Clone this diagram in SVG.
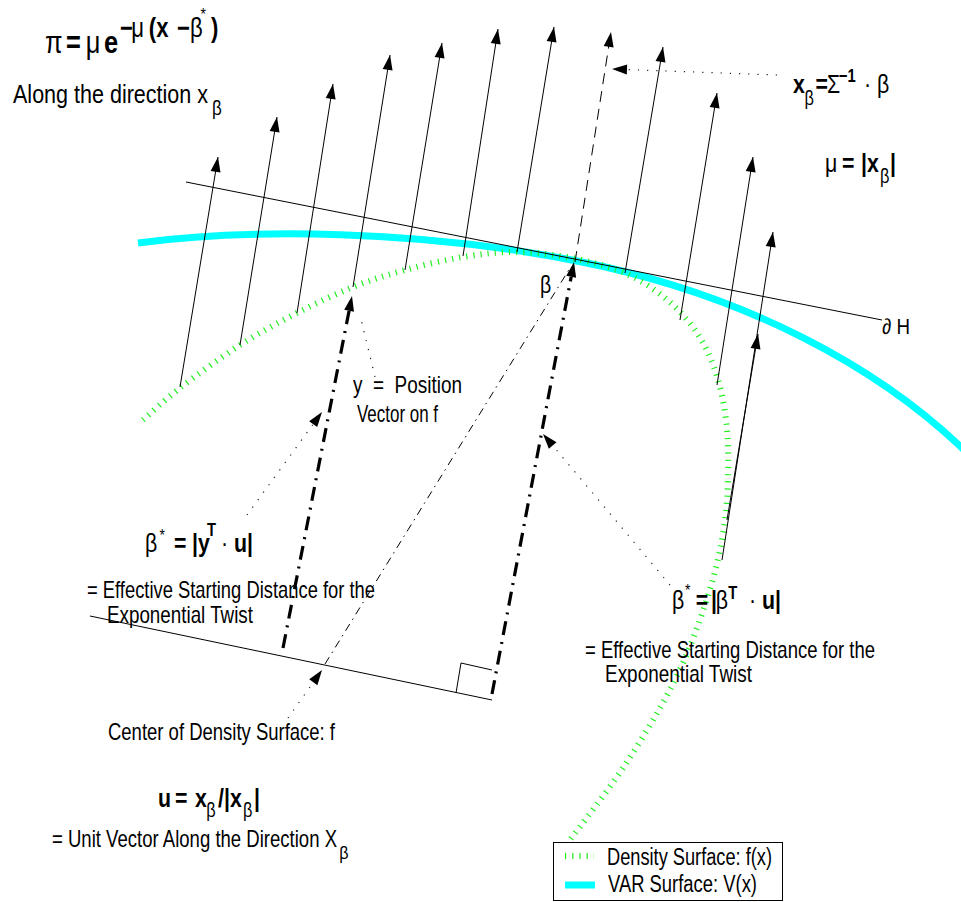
<svg xmlns="http://www.w3.org/2000/svg" width="961" height="902" viewBox="0 0 961 902">
<defs>
<style>
.t{font-family:"Liberation Sans",Arial,"DejaVu Sans",sans-serif;fill:#000}
.b{font-weight:bold}
.pre{white-space:pre}
.ln{stroke:#000;stroke-width:1;fill:none}
.arr{stroke:#000;stroke-width:1;fill:none;marker-end:url(#ah)}
.dash{stroke:#000;stroke-width:1;fill:none;stroke-dasharray:11 7;marker-end:url(#ah)}
.dot{stroke:#222;stroke-width:1.2;fill:none;stroke-dasharray:1.2 8}
.dda{marker-end:url(#ah)}
.thick{stroke:#000;stroke-width:3.2;fill:none;stroke-dasharray:14 7 2 7;marker-end:url(#ah0)}
.dd{stroke:#000;stroke-width:1;fill:none;stroke-dasharray:8 5 1.5 5}
.green{stroke:#22ee22;stroke-width:6;fill:none;stroke-dasharray:1.2 6}
.cyan{stroke:#00ffff;stroke-width:7;fill:none}
</style>
<marker id="ah" markerUnits="userSpaceOnUse" markerWidth="16" markerHeight="11" refX="15" refY="5" orient="auto" overflow="visible"><path d="M0,0 L15,5 L0,10 z" fill="#000"/></marker>
<marker id="ah0" markerUnits="userSpaceOnUse" markerWidth="16" markerHeight="11" refX="0" refY="5" orient="auto" overflow="visible"><path d="M0,0 L15,5 L0,10 z" fill="#000"/></marker>
</defs>
<rect width="961" height="902" fill="#fff"/>

<g id="surfaces">
<path class="cyan" d="M138,243 C250,228 420,230 577,261 C750,295 880,370 961,447 L975,461"/>
<path class="green" d="M143,420 C149.2,414.7 163.8,400.5 180,388 C196.2,375.5 220.5,357.5 240,345 C259.5,332.5 278.2,322.7 297,313 C315.8,303.3 335,294.2 353,287 C371,279.8 386.7,275 405,270 C423.3,265 444.3,260 463,257 C481.7,254 498,251.7 517,252 C536,252.3 558.7,255.3 577,259 C595.3,262.7 612.3,267.5 627,274 C641.7,280.5 653.7,288.7 665,298 C676.3,307.3 686.7,318 695,330 C703.3,342 709.8,355 715,370 C720.2,385 723.8,401.7 726,420 C728.2,438.3 728.7,460 728,480 C727.3,500 725.8,519.2 722,540 C718.2,560.8 712.8,581.7 705,605 C697.2,628.3 688.3,653.3 675,680 C661.7,706.7 642.5,738.3 625,765 C607.5,791.7 579.2,827.5 570,840"/>
</g>

<g id="connectors">
<line class="ln" x1="186" y1="182" x2="882" y2="320" stroke-width="1.2"/>
<line class="ln" x1="90" y1="616" x2="492" y2="700" stroke-width="1.2"/>
<polyline class="ln" points="456,693 461,663 492,670"/>
<line class="arr" x1="180" y1="387" x2="218" y2="157"/>
<line class="arr" x1="240" y1="345" x2="277" y2="117"/>
<line class="arr" x1="297" y1="313" x2="333" y2="84"/>
<line class="arr" x1="353" y1="287" x2="390" y2="55"/>
<line class="arr" x1="405" y1="270" x2="442" y2="43"/>
<line class="arr" x1="463" y1="256" x2="498" y2="29"/>
<line class="arr" x1="517" y1="252" x2="554" y2="27"/>
<line class="dash" x1="575" y1="262" x2="611" y2="32"/>
<line class="arr" x1="625" y1="273" x2="663" y2="47"/>
<line class="arr" x1="680" y1="320" x2="717" y2="93"/>
<line class="arr" x1="717" y1="385" x2="753" y2="157"/>
<line class="arr" x1="722" y1="560" x2="773" y2="232"/>
<line class="arr" x1="727" y1="520" x2="758" y2="334"/>
<line class="thick" x1="283" y1="648" x2="349.1" y2="310.7"/>
<line class="thick" x1="492" y1="694" x2="571.2" y2="276.7"/>
<line class="dd" x1="325" y1="664" x2="570" y2="268"/>
<line class="dot dda" x1="777" y1="75" x2="612" y2="69"/>
<line class="dot dda" x1="247" y1="515" x2="322" y2="412"/>
<line class="dot dda" x1="670" y1="585" x2="543" y2="434"/>
<line class="dot dda" x1="288" y1="718" x2="322" y2="670"/>
<line class="dot" x1="375" y1="377" x2="360" y2="315"/>
</g>

<g id="title-formula">
<text class="t" transform="scale(0.82 1)" font-size="31">
<tspan x="54.9" y="53">π</tspan><tspan x="80.5" y="53" class="b">=</tspan><tspan x="104.5" y="53">μ</tspan><tspan x="126.8" y="53" class="b">e</tspan><tspan x="146.3" y="37" font-size="27" class="b">−</tspan><tspan x="160" y="37" font-size="27">μ</tspan><tspan x="181.5" y="37" font-size="27" class="b">(x</tspan><tspan x="215.9" y="37" font-size="27" class="b">−</tspan><tspan x="231.7" y="37" font-size="27">β</tspan><tspan x="244.5" y="20" font-size="17">*</tspan><tspan x="257.3" y="37" font-size="27" class="b">)</tspan>
</text>
</g>

<g id="along-direction">
<text class="t" x="13" y="103" font-size="25.5" textLength="195" lengthAdjust="spacingAndGlyphs">Along the direction x</text>
<text class="t" transform="scale(0.85 1)" x="249.5" y="115" font-size="20">β</text>
</g>

<g id="xbeta-def">
<text class="t" transform="scale(0.82 1)" font-size="26">
<tspan x="967.1" y="93" class="b">x</tspan><tspan x="981" y="105" font-size="20">β</tspan><tspan x="994.5" y="93" class="b">=</tspan><tspan x="1008.5" y="93">Σ</tspan><tspan x="1023" y="82" font-size="18" class="b">−1</tspan><tspan x="1053.7" y="93">·</tspan><tspan x="1069.5" y="93">β</tspan>
</text>
</g>

<g id="mu-def">
<text class="t" transform="scale(0.82 1)" font-size="26">
<tspan x="1006.1" y="172">μ</tspan><tspan x="1026.8" y="172" class="b">=</tspan><tspan x="1050" y="172" class="b">|x</tspan><tspan x="1073.2" y="183" font-size="20">β</tspan><tspan x="1085.4" y="172" class="b">|</tspan>
</text>
</g>

<g id="dH-label">
<text class="t pre" x="882" y="334" font-size="22" textLength="28" lengthAdjust="spacingAndGlyphs">∂ H</text>
</g>

<g id="beta-label">
<text class="t" transform="scale(0.85 1)" x="635.3" y="293" font-size="23">β</text>
</g>

<g id="y-label">
<text class="t pre" x="353" y="393" font-size="24" textLength="109" lengthAdjust="spacingAndGlyphs">y  =  Position</text>
<text class="t" x="357" y="422" font-size="24" textLength="81" lengthAdjust="spacingAndGlyphs">Vector on f</text>
</g>

<g id="beta-star-left">
<text class="t" transform="scale(0.82 1)" font-size="26">
<tspan x="176.8" y="552">β</tspan><tspan x="194.5" y="541" font-size="17">*</tspan><tspan x="212.2" y="552" class="b">=</tspan><tspan x="234.1" y="552" class="b">|y</tspan><tspan x="252.4" y="536" font-size="18" class="b">T</tspan><tspan x="269.5" y="552">·</tspan><tspan x="285.4" y="552" class="b">u|</tspan>
</text>
<text class="t" x="87" y="598" font-size="24" textLength="288" lengthAdjust="spacingAndGlyphs">= Effective Starting Distance for the</text>
<text class="t" x="107" y="623" font-size="24" textLength="146" lengthAdjust="spacingAndGlyphs">Exponential Twist</text>
</g>

<g id="beta-star-right">
<text class="t" transform="scale(0.82 1)" font-size="26">
<tspan x="819.5" y="609">β</tspan><tspan x="835.4" y="596" font-size="17">*</tspan><tspan x="848.5" y="609" class="b">=</tspan><tspan x="867" y="609" class="b">|</tspan><tspan x="873" y="609">β</tspan><tspan x="888" y="599" font-size="18" class="b">T</tspan><tspan x="913.4" y="609">·</tspan><tspan x="929.3" y="609" class="b">u|</tspan>
</text>
<text class="t" x="585" y="658" font-size="24" textLength="290" lengthAdjust="spacingAndGlyphs">= Effective Starting Distance for the</text>
<text class="t" x="605" y="682" font-size="24" textLength="147" lengthAdjust="spacingAndGlyphs">Exponential Twist</text>
</g>

<g id="center-label">
<text class="t" x="108" y="740" font-size="24" textLength="227" lengthAdjust="spacingAndGlyphs">Center of Density Surface: f</text>
</g>

<g id="u-def">
<text class="t" transform="scale(0.82 1)" font-size="26">
<tspan x="192.7" y="807" class="b">u</tspan><tspan x="213.4" y="807" class="b">=</tspan><tspan x="237.8" y="807" class="b">x</tspan><tspan x="251.5" y="817" font-size="20">β</tspan><tspan x="265.9" y="807" class="b">/|x</tspan><tspan x="296.3" y="817" font-size="20">β</tspan><tspan x="309.8" y="807" class="b">|</tspan>
</text>
<text class="t" x="52" y="847" font-size="24" textLength="285" lengthAdjust="spacingAndGlyphs">= Unit Vector Along the Direction X</text>
<text class="t" transform="scale(0.85 1)" x="399" y="859" font-size="19">β</text>
</g>

<g id="legend">
<rect x="553.5" y="842.5" width="229" height="58" fill="#fff" stroke="#000" stroke-width="1"/>
<line class="green" x1="565" y1="856" x2="594" y2="856"/>
<line class="cyan" x1="565" y1="885" x2="595" y2="885" stroke-width="6"/>
<text class="t" x="607" y="865" font-size="23.5" textLength="165" lengthAdjust="spacingAndGlyphs">Density Surface: f(x)</text>
<text class="t" x="608" y="892" font-size="23.5" textLength="149" lengthAdjust="spacingAndGlyphs">VAR Surface: V(x)</text>
</g>
</svg>
